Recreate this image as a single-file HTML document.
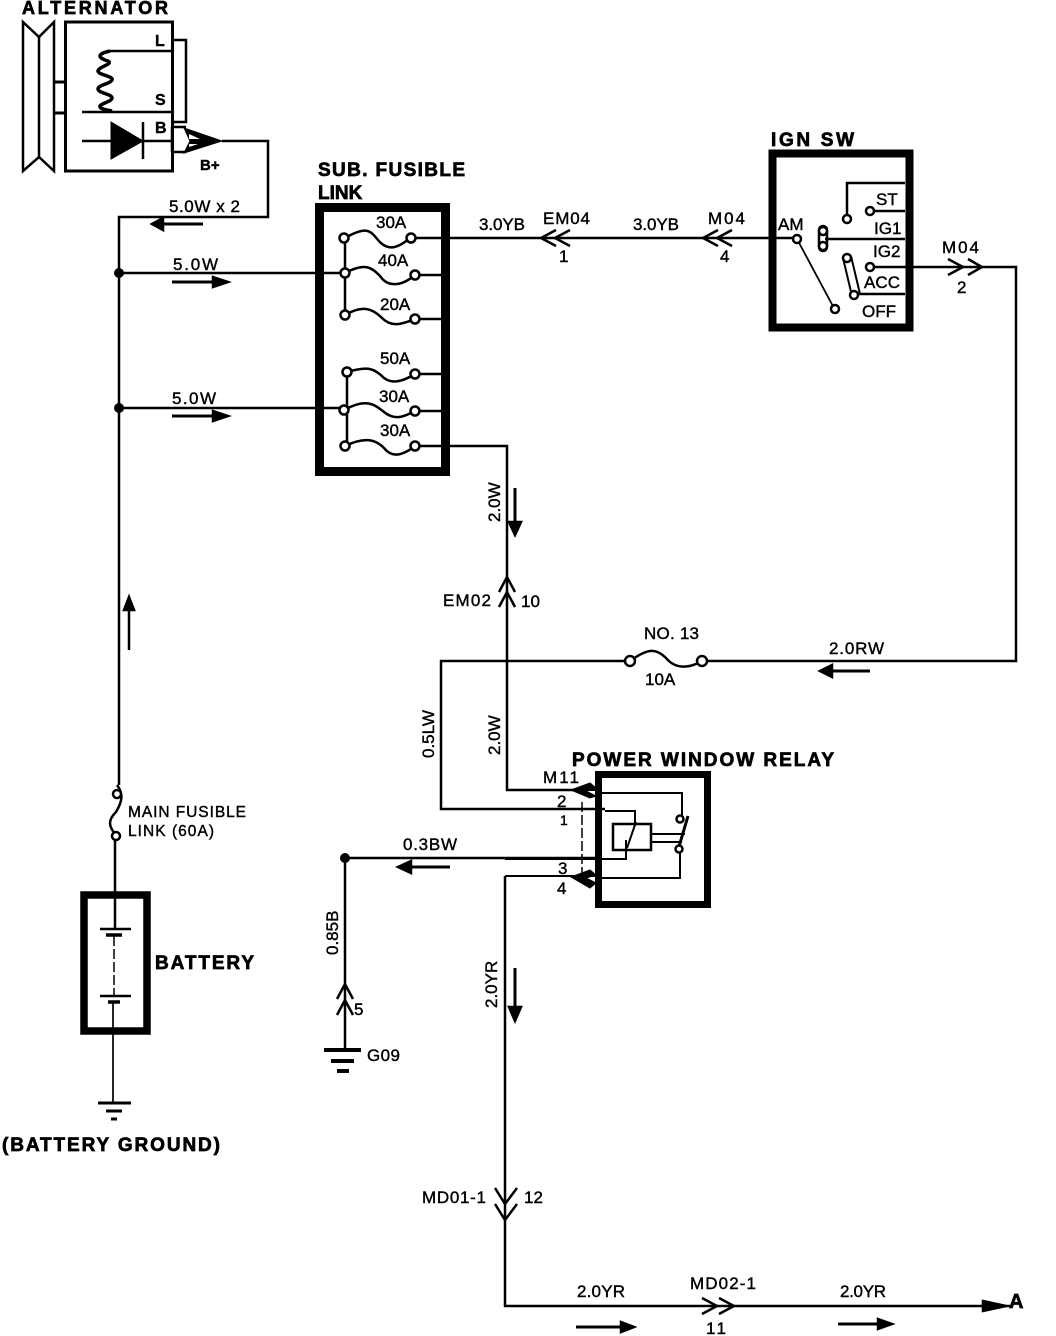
<!DOCTYPE html>
<html><head><meta charset="utf-8"><style>
html,body{margin:0;padding:0;background:#fff}
svg{display:block}
text{font-family:"Liberation Sans",sans-serif;fill:#000}
.b{font-weight:bold;stroke:#000;stroke-width:.7}
.t{font-size:17px;stroke:#000;stroke-width:.4}
</style></head><body>
<svg width="1056" height="1336" viewBox="0 0 1056 1336" xmlns="http://www.w3.org/2000/svg">
<g fill="none" stroke="#000" stroke-width="2.500">
<!-- Alternator -->
<path d="M23 22L39 37L54 22V171L39 157L23 171Z" stroke-width="2.500"/>
<path d="M39 37V157" stroke-width="2.500"/>
<path d="M54 82H65M54 113H65" stroke-width="3"/>
<rect x="65.500" y="22" width="107" height="149" stroke-width="3"/>
<path d="M172 40H186V122H172M110 51H172M82 112H172M82 141H172" stroke-width="2.500"/>
<path d="M110 51C96 54 98 58 108 61C114 64 98 67 98 71C98 75 114 76 112 80C110 84 98 85 98 89C98 93 112 94 112 98C112 102 98 104 100 107C102 110 108 110 112 111" stroke-width="3.500"/>
<path d="M172 127H186M172 152H186M172 127V152" stroke-width="2.500"/>
<path d="M143 122V159" stroke-width="2.500"/>
<path d="M111 122L143 141L111 159Z" fill="#000" stroke-width="1"/>
<path d="M184 128L222 141L184 153L190 141Z" fill="#000" stroke-width="1"/>
<path d="M189 134L200 139H189ZM189 144H198L189 147Z" fill="#fff" stroke="none"/>
<path d="M222 141H268V217H119V785" stroke-width="2.500"/>
<path d="M152 224H203" stroke-width="3"/><path d="M163 218L152 224L163 230Z" fill="#000"/>
<!-- left feeds -->
<path d="M119 273H342M119 408H342" stroke-width="2.500"/>
<path d="M172 282H220M172 416H220" stroke-width="3"/>
<path d="M213 277L228 282L213 287ZM213 411L228 416L213 421Z" fill="#000"/>
<path d="M129 650V605" stroke-width="2.500"/><path d="M124 610L129 597L134 610Z" fill="#000"/>
<!-- Sub fusible box -->
<rect x="319.500" y="207.500" width="126" height="264" stroke-width="9"/>
<path d="M345 238V315M347 372V446" stroke-width="2.500"/>
<g stroke-width="2.500">
<path d="M345 238C366 226 370 230 378 240C388 252 398 248 410 238H505"/>
<path d="M345 273C366 262 372 268 380 276C388 288 402 286 415 275H441"/>
<path d="M345 315C362 305 372 308 382 318C392 328 402 324 415 319H441"/>
<path d="M347 372C368 366 374 368 384 378C392 384 402 382 415 374H441"/>
<path d="M344 410C366 398 374 404 384 412C394 420 402 418 415 411H441"/>
<path d="M345 446C366 436 376 440 384 448C392 458 402 456 415 446H507V790H580"/>
</g>
<g fill="#fff" stroke-width="2.500">
<circle cx="344" cy="238" r="4.500"/><circle cx="411" cy="238" r="4.500"/>
<circle cx="345" cy="273" r="4.500"/><circle cx="415" cy="275" r="4.500"/>
<circle cx="345" cy="315" r="4.500"/><circle cx="415" cy="319" r="4.500"/>
<circle cx="347" cy="372" r="4.500"/><circle cx="415" cy="374" r="4.500"/>
<circle cx="344" cy="410" r="4.500"/><circle cx="415" cy="411" r="4.500"/>
<circle cx="345" cy="446" r="4.500"/><circle cx="415" cy="446" r="4.500"/>
</g>
<!-- wire to IGN -->
<path d="M505 238H797" stroke-width="2.500"/>
<path d="M556 230L541 238L556 246M570 230L555 238L570 246M718 230L703 238L718 246M732 230L717 238L732 246" stroke-width="2.500"/>
<!-- IGN -->
<rect x="772.500" y="153.500" width="137" height="174" stroke-width="8"/>
<path d="M905 183H847V214M870 211H905M825 239H905M870 267H1016V661H702M856 294H905" stroke-width="2.500"/>
<path d="M797 239L835 310" stroke-width="1.800"/>
<rect x="819" y="226" width="8" height="25" rx="4" stroke-width="2.500"/>
<path d="M843 258L852 296M851 256L860 294" stroke-width="2"/>
<g fill="#fff" stroke-width="2.500">
<circle cx="847" cy="219" r="4"/><circle cx="870" cy="211" r="4"/><circle cx="797" cy="239" r="4"/>
<circle cx="823" cy="231" r="4"/><circle cx="823" cy="246" r="4"/>
<circle cx="847" cy="258" r="4"/><circle cx="870" cy="267" r="4"/><circle cx="854" cy="295" r="4"/><circle cx="835" cy="309" r="4"/>
</g>
<path d="M948 259L963 267L948 275M968 259L982 267L968 275" stroke-width="2.500"/>
<!-- EM02 -->
<path d="M515 488V528" stroke-width="3"/><path d="M509 522L515 535L521 522Z" fill="#000"/>
<path d="M499 592L507 577L515 592M499 607L507 592L515 607" stroke-width="2.500"/>
<!-- NO 13 -->
<path d="M630 661H441V809H605" stroke-width="2.500"/>
<path d="M630 661C648 648 656 648 666 658C676 670 690 668 702 661" stroke-width="2.500"/>
<circle cx="630" cy="661" r="5" fill="#fff" stroke-width="2.500"/><circle cx="702" cy="661" r="5" fill="#fff" stroke-width="2.500"/>
<path d="M820 671H870" stroke-width="3"/><path d="M832 665L820 671L832 677Z" fill="#000"/>
<!-- Relay -->
<rect x="598.500" y="774.500" width="109" height="130" stroke-width="7"/>
<path d="M507 790H600M602 793H682V816M605 811H635V826M505 859H626V840M505 876H600M600 878H680V852" stroke-width="2"/>
<path d="M582 802V876" stroke-width="1.500" stroke-dasharray="10 3"/>
<rect x="613" y="824" width="38" height="26" stroke-width="2.500"/>
<path d="M636 822L627 848M651 834H685M651 842H682" stroke-width="2"/>
<path d="M688 816L678 850" stroke-width="3"/>
<circle cx="680" cy="819" r="3.500" fill="#fff" stroke-width="2.500"/><circle cx="679" cy="849" r="3.500" fill="#fff" stroke-width="2.500"/>
<path d="M571 790L590 783L596 788L586 791L596 796L590 798ZM571 877L590 870L596 875L586 878L596 883L590 888Z" fill="#000" stroke-width="1"/>
<!-- Ground branch -->
<path d="M345 1050V858H595" stroke-width="2.500"/>
<path d="M398 867H450" stroke-width="3"/><path d="M411 861L398 867L411 873Z" fill="#000"/>
<path d="M337 999L345 984L353 999M337 1015L345 1000L353 1015" stroke-width="2.500"/>
<path d="M324 1050H361" stroke-width="4"/><path d="M331 1061H354" stroke-width="4"/><path d="M337 1071H349" stroke-width="4"/>
<!-- lower wire -->
<path d="M505 876V1306H1010" stroke-width="2.500"/>
<path d="M515 968V1012" stroke-width="3"/><path d="M509 1007L515 1021L521 1007Z" fill="#000"/>
<path d="M495 1188L505 1204L517 1188M495 1204L505 1220L517 1204" stroke-width="2.500"/>
<path d="M702 1298L717 1306L702 1314M719 1298L734 1306L719 1314" stroke-width="2.500"/>
<path d="M576 1327H628M838 1324H885" stroke-width="3"/>
<path d="M621 1322L634 1327L621 1332ZM878 1319L892 1324L878 1329ZM983 1301L1006 1306L983 1311Z" fill="#000"/>
<!-- main fusible -->
<path d="M117 785C124 794 122 802 116 812C108 820 108 826 116 835" stroke-width="2.500"/>
<circle cx="117" cy="794" r="4" fill="#fff" stroke-width="2.500"/><circle cx="116" cy="836" r="4" fill="#fff" stroke-width="2.500"/>
<!-- battery -->
<rect x="84" y="895" width="63" height="136" stroke-width="7.500"/>
<path d="M115 840V929M100 929H131" stroke-width="2.500"/>
<path d="M106 935H122" stroke-width="3.500"/>
<path d="M114 936V995" stroke-width="1.500" stroke-dasharray="10 3"/>
<path d="M100 996H131" stroke-width="2.500"/><path d="M108 1002H120" stroke-width="3.500"/>
<path d="M113 1003V1103" stroke-width="1.700"/>
<path d="M98 1103H131" stroke-width="3"/><path d="M106 1111H122" stroke-width="3"/><path d="M111 1119H117" stroke-width="3"/>
</g>
<circle cx="119" cy="273" r="5"/><circle cx="119" cy="408" r="5"/><circle cx="345" cy="858" r="5"/>
<!-- Bold labels -->
<g class="b">
<text x="22" y="14" font-size="18" textLength="146">ALTERNATOR</text>
<text x="318" y="176" font-size="19" textLength="147">SUB. FUSIBLE</text>
<text x="318" y="199" font-size="19">LINK</text>
<text x="771" y="146" font-size="19" textLength="83">IGN SW</text>
<text x="572" y="766" font-size="19" textLength="262">POWER WINDOW RELAY</text>
<text x="155" y="969" font-size="19" textLength="99">BATTERY</text>
<text x="2" y="1151" font-size="19" textLength="218">(BATTERY GROUND)</text>
<text x="1009" y="1308" font-size="20">A</text>
</g>
<g class="t">
<text x="155" y="46" font-size="16" font-weight="bold">L</text>
<text x="155" y="105" font-size="16" font-weight="bold">S</text>
<text x="155" y="133" font-size="16" font-weight="bold">B</text>
<text x="200" y="170" font-size="15" font-weight="bold">B+</text>
<text x="169" y="212" textLength="71">5.0W x 2</text>
<text x="173" y="270" textLength="45">5.0W</text>
<text x="172" y="404" textLength="44">5.0W</text>
<text x="376" y="228">30A</text><text x="378" y="266">40A</text><text x="380" y="310">20A</text>
<text x="380" y="364">50A</text><text x="379" y="402">30A</text><text x="380" y="436">30A</text>
<text x="479" y="230" textLength="46">3.0YB</text>
<text x="543" y="224" textLength="47">EM04</text><text x="559" y="262">1</text>
<text x="633" y="230" textLength="46">3.0YB</text>
<text x="708" y="224" textLength="37">M04</text><text x="720" y="262">4</text>
<text x="778" y="230">AM</text>
<text x="876" y="205">ST</text><text x="874" y="234">IG1</text><text x="873" y="257">IG2</text><text x="864" y="288" textLength="36">ACC</text><text x="862" y="317">OFF</text>
<text x="942" y="253" textLength="37">M04</text><text x="957" y="293">2</text>
<text x="443" y="606" textLength="48">EM02</text><text x="521" y="607">10</text>
<text x="644" y="639" textLength="55">NO. 13</text><text x="645" y="685">10A</text>
<text x="829" y="654" textLength="55">2.0RW</text>
<text x="543" y="783" textLength="36">M11</text>
<text x="557" y="807">2</text><text x="560" y="825" font-size="14">1</text><text x="558" y="874">3</text><text x="557" y="894">4</text>
<text x="403" y="850" textLength="54">0.3BW</text>
<text x="367" y="1061" textLength="33">G09</text>
<text x="354" y="1015">5</text>
<text x="128" y="817" font-size="15.500" textLength="118">MAIN FUSIBLE</text>
<text x="128" y="836" font-size="15.500" textLength="86">LINK (60A)</text>
<text x="422" y="1203" textLength="64">MD01-1</text><text x="524" y="1203">12</text>
<text x="577" y="1297" textLength="48">2.0YR</text><text x="690" y="1289" textLength="66">MD02-1</text><text x="706" y="1334" textLength="20">11</text><text x="840" y="1297" textLength="46">2.0YR</text>
<text transform="translate(500,522) rotate(-90)">2.0W</text>
<text transform="translate(434,758) rotate(-90)">0.5LW</text>
<text transform="translate(500,755) rotate(-90)">2.0W</text>
<text transform="translate(338,955) rotate(-90)">0.85B</text>
<text transform="translate(497,1008) rotate(-90)">2.0YR</text>
</g>
</svg>
</body></html>
